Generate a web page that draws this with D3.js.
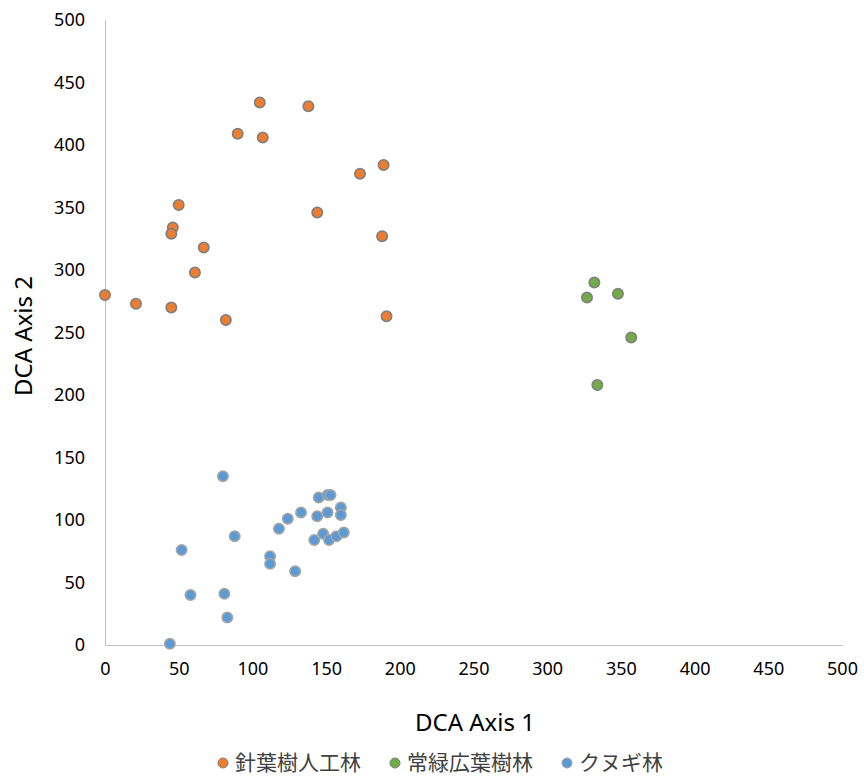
<!DOCTYPE html>
<html>
<head>
<meta charset="utf-8">
<script src="https://cdn.jsdelivr.net/npm/d3@7"></script>
<style>
  body { margin: 0; background: #fff; }
  svg { display: block; }
</style>
</head>
<body>
<svg id="chart"></svg>
<script>
const xTicks = [0, 50, 100, 150, 200, 250, 300, 350, 400, 450, 500]
const yTicks = [0, 50, 100, 150, 200, 250, 300, 350, 400, 450, 500]

const seriesNames = ['針葉樹人工林', '常緑広葉樹林', 'クヌギ林']

// 針葉樹人工林
const conifer = [
  [105, 434], [138, 431], [90, 409], [107, 406], [189, 384], [173, 377],
  [50, 352], [144, 346], [46, 334], [45, 329], [188, 327], [67, 318],
  [61, 298], [0, 280], [21, 273], [45, 270], [82, 260], [191, 263]
]

// 常緑広葉樹林
const evergreen = [
  [332, 290], [327, 278], [348, 281], [357, 246], [334, 208]
]

// クヌギ林
const kunugi = [
  [80, 135], [145, 118], [151, 120], [153, 120], [160, 110], [160, 104],
  [133, 106], [124, 101], [144, 103], [151, 106], [118, 93], [88, 87],
  [142, 84], [148, 89], [152, 84], [157, 87], [162, 90], [52, 76],
  [112, 71], [112, 65], [129, 59], [58, 40], [81, 41], [83, 22], [44, 1]
]

const COLORS = ['#ED7D31', '#70AD47', '#5B9BD5']
const STROKES = ['#7f7f7f', '#7f7f7f', '#a5a5a5']

const width = 864
const height = 778
const margin = { left: 105, right: 22, top: 20, bottom: 133 }

const svg = d3.select('#chart')
  .attr('width', width)
  .attr('height', height)
  .style('font-family', '"Noto Sans", "Noto Sans CJK JP", sans-serif')

const x = d3.scaleLinear().domain([0, 500]).range([margin.left, width - margin.right])
const y = d3.scaleLinear().domain([0, 500]).range([height - margin.bottom, margin.top])

// axes
const xAxis = svg.append('g')
  .attr('transform', `translate(0,${y(0)})`)
  .call(d3.axisBottom(x).tickValues(xTicks).tickSize(0).tickPadding(17))
xAxis.select('.domain').attr('stroke', '#bfbfbf')
xAxis.selectAll('text')
  .attr('font-size', '18px')
  .attr('fill', '#000')
  .attr('font-family', '"Noto Sans", sans-serif')

const yAxis = svg.append('g')
  .attr('transform', `translate(${x(0)},0)`)
  .call(d3.axisLeft(y).tickValues(yTicks).tickSize(0).tickPadding(20))
yAxis.select('.domain').attr('stroke', '#bfbfbf')
yAxis.selectAll('text')
  .attr('font-size', '18px')
  .attr('fill', '#000')
  .attr('font-family', '"Noto Sans", sans-serif')

// axis titles
svg.append('text')
  .attr('x', 475)
  .attr('y', 731)
  .attr('text-anchor', 'middle')
  .attr('font-size', '24px')
  .attr('fill', '#000')
  .text('DCA Axis 1')

svg.append('text')
  .attr('transform', `translate(32,${336}) rotate(-90)`)
  .attr('text-anchor', 'middle')
  .attr('font-size', '24px')
  .attr('fill', '#000')
  .text('DCA Axis 2')

// points
const allSeries = [conifer, evergreen, kunugi]
allSeries.forEach((data, i) => {
  svg.append('g')
    .selectAll('circle')
    .data(data)
    .enter()
    .append('circle')
    .attr('cx', d => x(d[0]))
    .attr('cy', d => y(d[1]))
    .attr('r', 5.2)
    .attr('fill', COLORS[i])
    .attr('stroke', STROKES[i])
    .attr('stroke-width', 1.6)
})

// legend
const legendX = [223, 395, 567]
const legend = svg.append('g')
  .selectAll('g')
  .data(seriesNames)
  .enter()
  .append('g')
  .attr('transform', (d, i) => `translate(${legendX[i]},763)`)

legend.append('circle')
  .attr('r', 5)
  .attr('fill', (d, i) => COLORS[i])
  .attr('stroke', (d, i) => STROKES[i])
  .attr('stroke-width', 1)

legend.append('text')
  .attr('x', 12)
  .attr('dy', '0.35em')
  .attr('font-size', '21px')
  .attr('fill', '#404040')
  .attr('font-family', '"Noto Sans CJK JP", sans-serif')
  .text(d => d)
</script>
</body>
</html>
